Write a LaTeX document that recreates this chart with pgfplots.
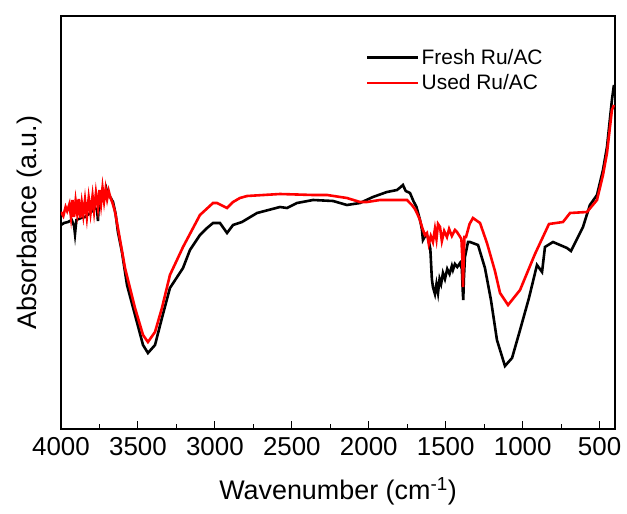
\documentclass[border=0pt]{standalone}
\usepackage{pgfplots}
\pgfplotsset{compat=1.18}
\usepackage{pgfplotstable}
\usepackage{fontspec}
\setmainfont{Liberation Sans}

% Fresh Ru/AC (black)
\pgfplotstableread{
x y
4000 204
3980 206
3955 207
3930 209
3915 203
3909 195
3900 209
3870 211
3844 212
3810 216
3779 221
3765 219
3760 208
3755 222
3734 237
3720 230
3705 240
3695 234
3680 232
3662 227
3645 215
3630 197
3604 177
3571 144
3519 114
3467 84
3435 76
3389 84
3344 111
3292 141
3207 161
3162 179
3097 194
3051 201
3012 206
2967 206
2921 196
2882 204
2824 207
2726 216
2577 222
2531 221
2466 226
2362 229
2232 228
2142 224
2057 226
1973 232
1882 237
1817 239
1800 241
1778 244
1760 238
1732 236
1710 228
1690 222
1667 209
1655 200
1648 189
1630 194
1615 192
1600 180
1590 150
1583 142
1570 135
1560 145
1550 136
1540 150
1530 145
1518 156
1505 150
1490 160
1475 155
1460 163
1453 159
1440 165
1425 162
1407 166
1395 160
1390 140
1386 129
1382 150
1375 172
1355 187
1342 187
1290 184
1245 161
1206 129
1167 89
1115 63
1069 71
1017 99
959 131
907 164
874 157
855 182
803 187
712 181
686 178
608 202
563 224
517 234
478 259
452 282
420 329
407 344
}\fresh

% Used Ru/AC (red)
\pgfplotstableread{
x y
4000 217
3985 213
3970 222
3960 218
3945 225
3935 212
3925 229
3915 212
3905 228
3895 216
3885 230
3875 211
3865 226
3855 214
3844 229
3832 212
3820 231
3808 216
3795 233
3785 218
3773 236
3760 221
3750 239
3740 225
3730 241
3720 228
3710 240
3700 230
3690 238
3680 232
3665 226
3650 218
3630 201
3584 161
3519 121
3467 94
3435 87
3389 97
3344 121
3292 154
3207 182
3097 214
3012 226
2986 226
2921 221
2882 227
2837 231
2791 233
2577 235
2362 234
2271 234
2142 231
2057 227
2011 227
1927 229
1752 229
1720 224
1700 220
1687 216
1670 210
1650 200
1635 194
1622 196
1610 185
1597 193
1583 187
1570 200
1560 190
1550 205
1537 202
1525 188
1510 198
1492 192
1478 200
1460 193
1440 199
1427 197
1410 193
1398 190
1392 170
1388 142
1384 165
1378 192
1368 192
1345 205
1323 211
1277 206
1232 186
1180 158
1147 136
1095 124
1017 139
920 175
829 205
738 207
692 216
582 217
517 229
478 254
452 276
420 319
407 324
}\used

\begin{document}
\begin{tikzpicture}
\begin{axis}[
    scale only axis,
    width=554bp,
    height=413bp,
    x dir=reverse,
    xmin=400, xmax=4000,
    ymin=0, ymax=413,
    xtick={500,1000,...,4000},
    minor x tick num=1,
    xtick pos=left,
    ytick=\empty,
    tick align=inside,
    major tick length=8bp,
    minor tick length=5bp,
    every tick/.style={black, line width=1bp},
    axis line style={line width=1.2bp},
    scaled x ticks=false,
    xticklabel style={/pgf/number format/1000 sep={}, yshift=-5bp},
    /pgf/number format/assume math mode=true,
    tick label style={font=\fontsize{26}{30}\selectfont},
    label style={font=\fontsize{27}{32}\selectfont},
    xlabel={Wavenumber (cm\textsuperscript{-1})},
    ylabel={Absorbance (a.u.)},
    xlabel style={at={(axis description cs:0.5,-0.17)}, anchor=base},
    ylabel style={at={(axis description cs:-0.056,0.5)}, anchor=center},
    legend style={draw=none, fill=none, at={(axis description cs:0.545,0.93)},
        anchor=north west, font=\fontsize{21}{25}\selectfont,
        row sep=5bp},
    legend cell align=left,
    legend image code/.code={\draw[#1] (0bp,0bp) -- (51bp,0bp);},
]
\addplot[black, line width=2.6bp] table {\fresh};
\addlegendentry{Fresh Ru/AC}
\addplot[red, line width=2.6bp] table {\used};
\addlegendentry{Used Ru/AC}
\end{axis}
\path ([xshift=-61bp,yshift=-85bp]current axis.south west)
    rectangle ([xshift=12bp,yshift=16bp]current axis.north east);
\end{tikzpicture}
\end{document}
